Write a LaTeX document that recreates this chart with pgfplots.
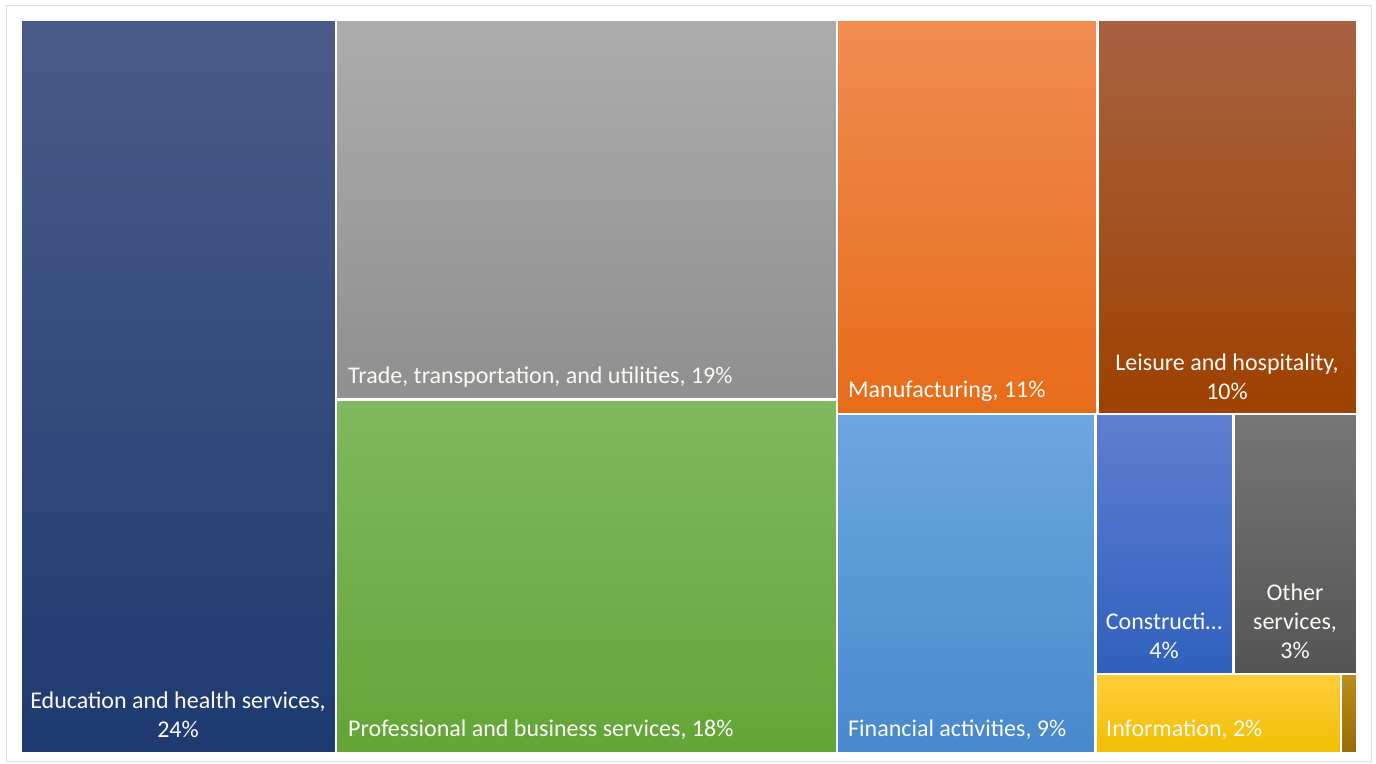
\documentclass[border=0pt]{standalone}
\usepackage{pgfplots}
\pgfplotsset{compat=1.18}
\usepackage{fontspec}
\setmainfont{Carlito}

\definecolor{eduT}{RGB}{74,91,138}    \definecolor{eduB}{RGB}{30,58,112}
\definecolor{trdT}{RGB}{172,172,172}  \definecolor{trdB}{RGB}{143,143,143}
\definecolor{proT}{RGB}{128,184,96}   \definecolor{proB}{RGB}{99,165,56}
\definecolor{manT}{RGB}{241,140,82}   \definecolor{manB}{RGB}{230,108,25}
\definecolor{leiT}{RGB}{168,98,66}    \definecolor{leiB}{RGB}{158,65,0}
\definecolor{finT}{RGB}{110,167,222}  \definecolor{finB}{RGB}{70,137,204}
\definecolor{conT}{RGB}{95,127,207}   \definecolor{conB}{RGB}{47,96,190}
\definecolor{othT}{RGB}{118,118,118}  \definecolor{othB}{RGB}{84,84,84}
\definecolor{infT}{RGB}{255,205,60}   \definecolor{infB}{RGB}{240,190,0}
\definecolor{minT}{RGB}{190,140,30}   \definecolor{minB}{RGB}{150,108,0}
\definecolor{lbl}{RGB}{252,250,245}
\definecolor{frame}{RGB}{220,220,220}

\tikzset{
    tile/.style={draw=white, line width=2.2pt},
    lab/.style={text=lbl, font=\fontsize{24}{29}\selectfont, align=center, inner sep=0pt},
}

\begin{document}
\begin{tikzpicture}
\begin{axis}[
    width=1376pt, height=763pt, scale only axis,
    xmin=0, xmax=1376, ymin=0, ymax=763, y dir=reverse,
    hide axis, clip=false,
]
% keep the full canvas in the bounding box
\path (axis cs:0,0) rectangle (axis cs:1376,763);
% treemap cells, corners in pixel units of the layout
\addplot[tile, top color=eduT, bottom color=eduB] coordinates {(21,20) (336,20) (336,753) (21,753)} -- cycle;
\addplot[tile, top color=trdT, bottom color=trdB] coordinates {(336,20) (837,20) (837,399.5) (336,399.5)} -- cycle;
\addplot[tile, top color=proT, bottom color=proB] coordinates {(336,399.5) (837,399.5) (837,753) (336,753)} -- cycle;
\addplot[tile, top color=manT, bottom color=manB] coordinates {(837,20) (1097.5,20) (1097.5,414) (837,414)} -- cycle;
\addplot[tile, top color=leiT, bottom color=leiB] coordinates {(1097.5,20) (1357,20) (1357,414) (1097.5,414)} -- cycle;
\addplot[tile, top color=finT, bottom color=finB] coordinates {(837,414) (1095.5,414) (1095.5,753) (837,753)} -- cycle;
\addplot[tile, top color=conT, bottom color=conB] coordinates {(1095.5,414) (1233.5,414) (1233.5,674) (1095.5,674)} -- cycle;
\addplot[tile, top color=othT, bottom color=othB] coordinates {(1233.5,414) (1357,414) (1357,674) (1233.5,674)} -- cycle;
\addplot[tile, top color=infT, bottom color=infB] coordinates {(1095.5,674) (1341,674) (1341,753) (1095.5,753)} -- cycle;
\addplot[tile, top color=minT, bottom color=minB] coordinates {(1341,674) (1357,674) (1357,753) (1341,753)} -- cycle;

\draw[frame, line width=1pt] (axis cs:6,5) rectangle (axis cs:1371,761);

\node[lab] at (axis cs:178,715) {Education and health services,\\24\%};
\node[lab, anchor=west] at (axis cs:348,377) {Trade, transportation, and utilities, 19\%};
\node[lab, anchor=west] at (axis cs:348,730) {Professional and business services, 18\%};
\node[lab, anchor=west] at (axis cs:848,391) {Manufacturing, 11\%};
\node[lab] at (axis cs:1227,377) {Leisure and hospitality,\\10\%};
\node[lab, anchor=west] at (axis cs:848,730) {Financial activities, 9\%};
\node[lab] at (axis cs:1164,636) {Constructi…\\4\%};
\node[lab] at (axis cs:1295,621.5) {Other\\services,\\3\%};
\node[lab, anchor=west] at (axis cs:1106,730) {Information, 2\%};
\end{axis}
\end{tikzpicture}
\end{document}
